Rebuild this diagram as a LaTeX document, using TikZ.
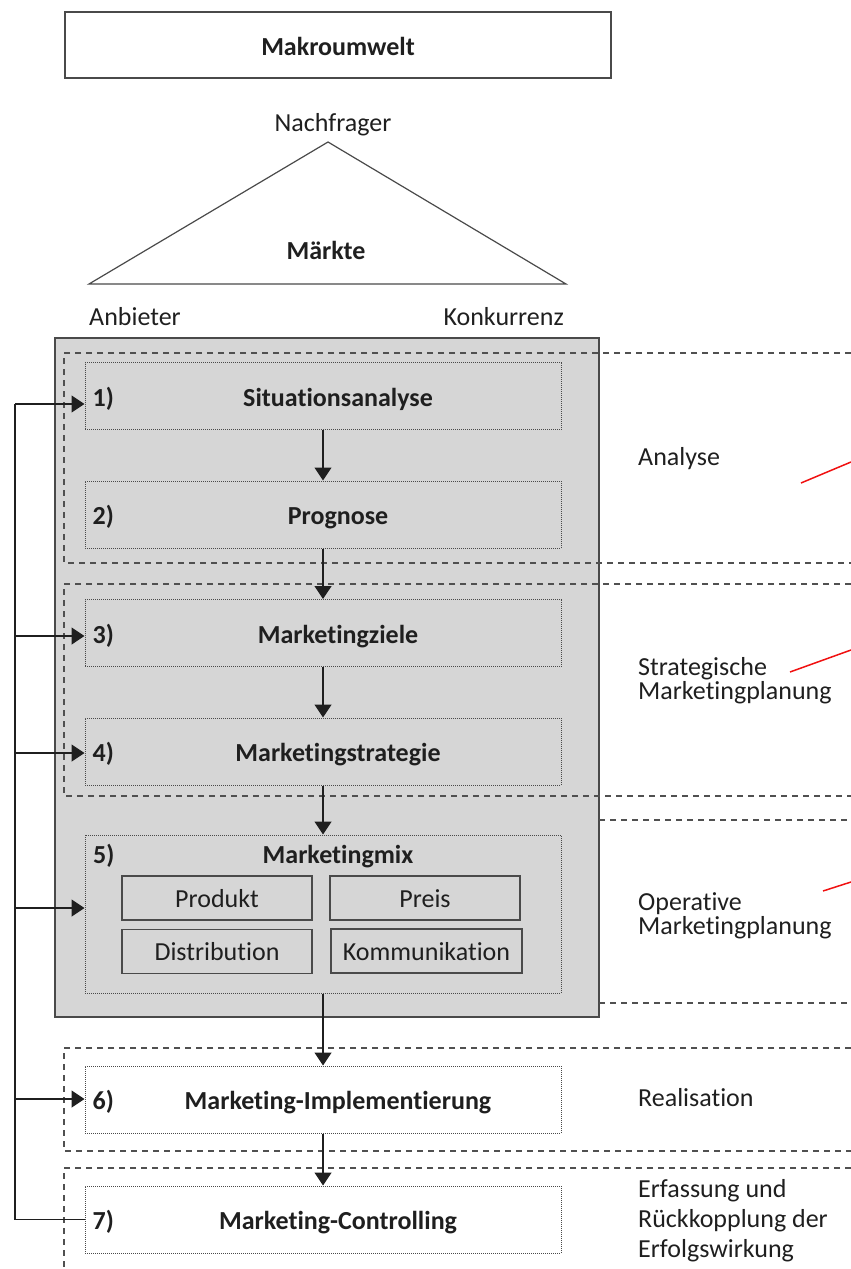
\documentclass[tikz,border=0pt]{standalone}
\usepackage{fontspec}
\setmainfont[Ligatures=NoCommon]{Carlito}
\usetikzlibrary{arrows.meta}
\definecolor{ink}{HTML}{1F1F1F}
\definecolor{edge}{HTML}{4A4A4A}
\definecolor{panelgray}{HTML}{D6D6D6}
\definecolor{guide}{HTML}{505050}
\definecolor{mark}{HTML}{F01010}
\tikzset{
  txt/.style={font=\fontsize{26}{30}\selectfont, text=ink, inner sep=0pt},
  bold/.style={txt, font=\fontsize{26}{30}\selectfont\bfseries},
  side/.style={txt, anchor=base west},
  stage/.style={draw=edge, densely dotted, line width=1pt, minimum width=476pt, minimum height=67pt, inner sep=0pt},
  cell/.style={draw=edge, line width=1.2pt, minimum width=190pt, minimum height=44pt, inner sep=0pt,
               txt, text height=18pt, text depth=0pt},
  flow/.style={draw=ink, line width=1.3pt, -{Triangle[width=17pt,length=13pt]}},
  link/.style={draw=ink, line width=1.3pt},
  band/.style={draw=guide, line width=1.2pt, dash pattern=on 6pt off 5pt},
  hint/.style={draw=mark, line width=1.5pt},
}
\begin{document}
\begin{tikzpicture}[x=1pt,y=-1pt]
\useasboundingbox (0,0) rectangle (851,1269);

% macro environment
\node[draw=edge, line width=1.2pt, minimum width=546pt, minimum height=66pt, inner sep=0pt] (umwelt) at (338,45) {};
\node[bold, anchor=base] (umweltlbl) at (338,55) {Makroumwelt};

% market triangle
\coordinate (apex) at (328,142);
\coordinate (lft) at (89,284);
\coordinate (rgt) at (566,284);
\draw[edge, line width=1.2pt] (lft) -- (apex) -- (rgt) -- cycle;
\node[txt, anchor=base] (nach) at (333,131) {Nachfrager};
\node[bold, anchor=base] (maerkte) at (326,259) {Märkte};
\node[txt, anchor=base west] (anb) at (89,325) {Anbieter};
\node[txt, anchor=base east] (konk) at (564,325) {Konkurrenz};

% planning panel
\node[draw=edge, fill=panelgray, line width=1.4pt, minimum width=544pt, minimum height=679pt, inner sep=0pt] (plan) at (327,677.5) {};

% phase bands
\draw[band] (851,353) -- (64,353) -- (64,563) -- (851,563);
\draw[band] (851,584) -- (64,584) -- (64,796) -- (851,796);
\draw[band] (599,820) -- (851,820);
\draw[band] (599,1003) -- (851,1003);
\draw[band] (851,1048) -- (64,1048) -- (64,1151) -- (851,1151);
\draw[band] (851,1168) -- (64,1168) -- (64,1269);

% process stages
\node[stage] (s1) at (323,396) {};
\node[stage] (s2) at (323,514.5) {};
\node[stage] (s3) at (323,633) {};
\node[stage] (s4) at (323,751.5) {};
\node[stage, minimum height=158pt] (s5) at (323,914) {};
\node[stage] (s6) at (323,1099.5) {};
\node[stage] (s7) at (323,1219.5) {};

\node[bold, anchor=base west] (n1) at ([xshift=8pt,yshift=-10pt]s1.west) {1)};
\node[bold, anchor=base] (l1) at ([xshift=15pt,yshift=-10pt]s1.center) {Situationsanalyse};
\node[bold, anchor=base west] (n2) at ([xshift=8pt,yshift=-10pt]s2.west) {2)};
\node[bold, anchor=base] (l2) at ([xshift=15pt,yshift=-10pt]s2.center) {Prognose};
\node[bold, anchor=base west] (n3) at ([xshift=8pt,yshift=-10pt]s3.west) {3)};
\node[bold, anchor=base] (l3) at ([xshift=15pt,yshift=-10pt]s3.center) {Marketingziele};
\node[bold, anchor=base west] (n4) at ([xshift=8pt,yshift=-10pt]s4.west) {4)};
\node[bold, anchor=base] (l4) at ([xshift=15pt,yshift=-10pt]s4.center) {Marketingstrategie};
\node[bold, anchor=base west] (n5) at (93,863) {5)};
\node[bold, anchor=base] (l5) at (338,863) {Marketingmix};
\node[bold, anchor=base west] (n6) at ([xshift=8pt,yshift=-10pt]s6.west) {6)};
\node[bold, anchor=base] (l6) at ([xshift=15pt,yshift=-10pt]s6.center) {Marketing-Implementierung};
\node[bold, anchor=base west] (n7) at ([xshift=8pt,yshift=-10pt]s7.west) {7)};
\node[bold, anchor=base] (l7) at ([xshift=15pt,yshift=-10pt]s7.center) {Marketing-Controlling};

% marketing mix instruments
\node[cell] (produkt) at (217,898) {Produkt};
\node[cell] (preis) at (425,898) {Preis};
\node[cell] (distri) at (217,951.5) {Distribution};
\node[cell, minimum width=191pt] (kommu) at (426.5,951) {Kommunikation};

% main flow
\draw[flow] (s1.south) -- (s2.north);
\draw[flow] (s2.south) -- (s3.north);
\draw[flow] (s3.south) -- (s4.north);
\draw[flow] (s4.south) -- (s5.north);
\draw[flow] (s5.south) -- (s6.north);
\draw[flow] (s6.south) -- (s7.north);

% feedback loop
\coordinate (bus1) at (15,404);
\coordinate (bus3) at (15,636);
\coordinate (bus4) at (15,753);
\coordinate (bus5) at (15,908);
\coordinate (bus6) at (15,1099);
\draw[link] (s7.west) -| (bus1);
\draw[flow] (bus1) -- (bus1 -| s1.west);
\draw[flow] (bus3) -- (bus3 -| s3.west);
\draw[flow] (bus4) -- (bus4 -| s4.west);
\draw[flow] (bus5) -- (bus5 -| s5.west);
\draw[flow] (bus6) -- (bus6 -| s6.west);

% phase labels
\node[side] (an) at (638,465) {Analyse};
\node[side] (st1) at (638,675) {Strategische};
\node[side] (st2) at (638,699) {Marketingplanung};
\node[side] (op1) at (638,910) {Operative};
\node[side] (op2) at (638,934) {Marketingplanung};
\node[side] (re) at (638,1106) {Realisation};
\node[side] (er1) at (638,1197) {Erfassung und};
\node[side] (er2) at (638,1227) {Rückkopplung der};
\node[side] (er3) at (638,1257) {Erfolgswirkung};

% red marks
\draw[hint] (801,483) -- (851,462);
\draw[hint] (790,672) -- (851,650);
\draw[hint] (823,891) -- (851,882);
\end{tikzpicture}
\end{document}
